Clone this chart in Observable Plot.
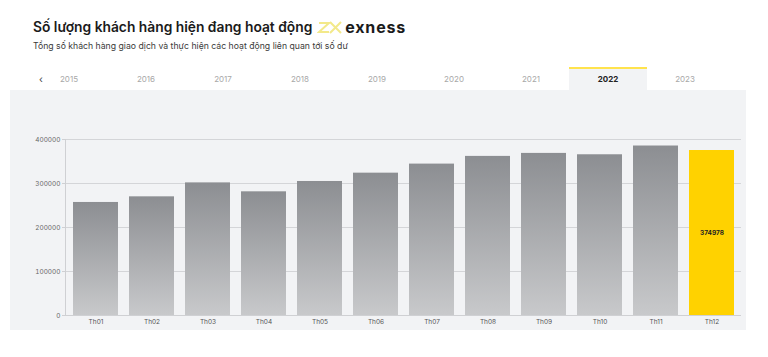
<!DOCTYPE html>
<html>
<head>
<meta charset="utf-8">
<script src="https://cdn.jsdelivr.net/npm/d3@7"></script>
<script src="https://cdn.jsdelivr.net/npm/@observablehq/plot@0.6"></script>
<style>
  html, body { margin: 0; padding: 0; background: #fff; }
  body { width: 768px; height: 357px; position: relative; overflow: hidden; font-family: Inter, "Noto Sans", "DejaVu Sans", sans-serif; }
  #title { position: absolute; left: 33px; top: 18px; height: 18px; font-size: 13.8px; font-weight: 600; color: #1b1b1b; white-space: nowrap; display: flex; align-items: center; }
  #title .brand { display: inline-flex; align-items: center; margin-left: 5px; }
  #title .brand span { font-weight: 700; font-size: 16px; letter-spacing: 0.8px; color: #1b1b1b; margin-left: 2px; }
  #subtitle { position: absolute; left: 33px; top: 41px; font-size: 8.7px; color: #3a3a3a; white-space: nowrap; }
  #tabs { position: absolute; left: 0; top: 68px; width: 768px; height: 22px; }
  .tab { position: absolute; top: 0; height: 22px; line-height: 22px; font-size: 8px; color: #a8a8a8; transform: translateX(-50%); }
  .tab.sel { background: #f2f3f5; color: #222; font-weight: 700; border-top: 2px solid #ffe34d; width: 78px; text-align: center; top: -1px; height: 21px; line-height: 21px; }
  #arrow { position: absolute; left: 39px; top: 68px; line-height: 22px; font-size: 10px; color: #444; }
  #panel { position: absolute; left: 10px; top: 90px; width: 736px; height: 240px; background: #f2f3f5; }
  #chart { position: absolute; left: 0; top: 90px; }
</style>
</head>
<body>
<div id="title">Số lượng khách hàng hiện đang hoạt động
  <span class="brand">
    <svg width="26" height="14" viewBox="0 0 26 14">
      <path d="M2 3 L12 3 L2 12 L12 12" fill="none" stroke="#f3e98a" stroke-width="2"/>
      <path d="M13 2 L24 13 M24 2 L13 13" fill="none" stroke="#f3e98a" stroke-width="2"/>
    </svg><span>exness</span>
  </span>
</div>
<div id="subtitle">Tổng số khách hàng giao dịch và thực hiện các hoạt động liên quan tới số dư</div>
<div id="panel"></div>
<div id="arrow">‹</div>
<div id="tabs"></div>
<div id="chart"></div>
<script>
const months = ["Th01","Th02","Th03","Th04","Th05","Th06","Th07","Th08","Th09","Th10","Th11","Th12"];
const customers = [256900, 269700, 301400, 281100, 304600, 323500, 344100, 361600, 368400, 365300, 385200, 374978];
const years = ["2015","2016","2017","2018","2019","2020","2021","2022","2023"];
const selectedYear = "2022";
const yTicks = [0, 100000, 200000, 300000, 400000];

// year tabs
const tabs = document.getElementById("tabs");
years.forEach((yr, i) => {
  const d = document.createElement("div");
  d.className = "tab" + (yr === selectedYear ? " sel" : "");
  d.style.left = (69 + i * 77) + "px";
  d.textContent = yr;
  tabs.appendChild(d);
});

const data = months.map((m, i) => ({month: m, value: customers[i], last: i === months.length - 1}));

const chart = Plot.plot({
  width: 768,
  height: 240,
  marginLeft: 65,
  marginRight: 27,
  marginTop: 49,
  marginBottom: 15,
  style: {background: "transparent", fontFamily: "Inter, 'Noto Sans', sans-serif"},
  x: {domain: months, paddingInner: 0.2, paddingOuter: 0.1, label: null},
  y: {domain: [0, 400000], label: null},
  marks: [
    Plot.gridY(yTicks, {stroke: "#d4d5d8", strokeOpacity: 1}),
    Plot.ruleY([0], {stroke: "#cfd0d3"}),
    Plot.frame({anchor: "left", stroke: "#cfd0d3"}),
    Plot.barY(data.filter(d => !d.last), {x: "month", y: "value", fill: "url(#barGrad)"}),
    Plot.barY(data.filter(d => d.last), {x: "month", y: "value", fill: "#ffd200"}),
    Plot.text(data.filter(d => d.last), {x: "month", y: d => d.value / 2, text: d => String(d.value), fontSize: 6.5, fontWeight: 700, fill: "#222"}),
    Plot.axisY(yTicks, {tickSize: 3, tickPadding: 2, fontSize: 6.5, color: "#666", stroke: "#cfd0d3", tickFormat: d => String(d), label: null}),
    Plot.axisX({tickSize: 0, tickPadding: 4, fontSize: 6.5, color: "#555", label: null})
  ]
});

const defs = d3.select(chart).insert("defs", ":first-child");
const g = defs.append("linearGradient").attr("id", "barGrad").attr("x1", 0).attr("y1", 0).attr("x2", 0).attr("y2", 1);
g.append("stop").attr("offset", "0%").attr("stop-color", "#8c8e92");
g.append("stop").attr("offset", "100%").attr("stop-color", "#c8c9cb");

document.getElementById("chart").appendChild(chart);
</script>
</body>
</html>
